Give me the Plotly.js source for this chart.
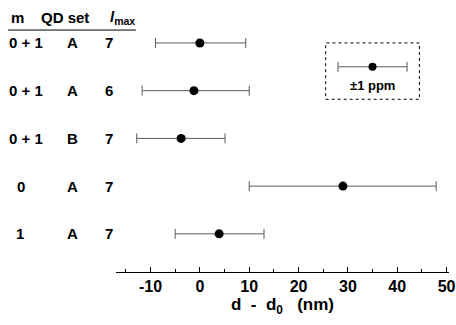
<!DOCTYPE html>
<html><head><meta charset="utf-8">
<script src="https://cdn.plot.ly/plotly-3.0.1.min.js"></script>
<style>body{margin:0;background:#fff}#c{width:456px;height:325px}</style>
</head><body><div id="c"></div>
<script>
// Data
const mLabels = ["0 + 1", "0 + 1", "0 + 1", "0", "1"];
const qdSets = ["A", "A", "B", "A", "A"];
const lmaxVals = ["7", "6", "7", "7", "7"];
const rowPos = [5, 4, 3, 2, 1];
const centers = [0, -1.2, -3.8, 29, 3.9];
const lowErr = [9, 10.5, 9, 19, 8.9];
const highErr = [9.3, 11.2, 8.9, 18.9, 9.1];
const tickVals = [-10, 0, 10, 20, 30, 40, 50];
const tickLabels = ["-10", "0", "10", "20", "30", "40", "50"];
const legendCenter = [35];
const legendRow = [4.5];
const legendErr = [7];

const font = {family: "Liberation Sans, Arial, sans-serif", color: "#000", weight: "bold"};
const traces = [
  {x: centers, y: rowPos, type: "scatter", mode: "markers",
   marker: {color: "#000", size: 9},
   error_x: {type: "data", symmetric: false, array: highErr, arrayminus: lowErr,
             color: "#5a5a5a", thickness: 1, width: 5},
   hoverinfo: "skip", cliponaxis: false},
  {x: legendCenter, y: legendRow, type: "scatter", mode: "markers",
   marker: {color: "#000", size: 8},
   error_x: {type: "data", array: legendErr, color: "#5a5a5a", thickness: 1, width: 5},
   hoverinfo: "skip"}
];

const colX = {m: 17, qd: 65, l: 122};
const rowColX = {m: [26, 26, 26, 21, 20], qd: 72, l: 109};
function px2paper(p){ return (p - 116) / 333; }

const ann = [];
ann.push({text: "m", x: px2paper(colX.m), y: 5.53});
ann.push({text: "QD set", x: px2paper(colX.qd), y: 5.53});
ann.push({text: "<i>l</i><sub>max</sub>", x: px2paper(colX.l), y: 5.53});
for (let i = 0; i < rowPos.length; i++) {
  ann.push({text: mLabels[i], x: px2paper(rowColX.m[i]), y: rowPos[i]});
  ann.push({text: qdSets[i], x: px2paper(rowColX.qd), y: rowPos[i]});
  ann.push({text: lmaxVals[i], x: px2paper(rowColX.l), y: rowPos[i]});
}
ann.forEach(a => { a.xref = "paper"; a.yref = "y"; a.showarrow = false;
  a.xanchor = "center"; a.yanchor = "middle"; a.font = Object.assign({size: 15}, font); });
ann.push({text: "±1 ppm", x: 35, y: 4.1, xref: "x", yref: "y", showarrow: false,
  font: Object.assign({size: 13}, font)});

const layout = {
  width: 456, height: 325,
  margin: {l: 116, r: 7, t: 0, b: 53},
  paper_bgcolor: "#fff", plot_bgcolor: "#fff",
  showlegend: false,
  xaxis: {range: [-17, 50.5], showgrid: false, zeroline: false,
    showline: true, linecolor: "#000", linewidth: 1,
    ticks: "inside", ticklen: 5, tickcolor: "#000",
    tickvals: tickVals, ticktext: tickLabels,
    minor: {dtick: 5, tick0: 0, ticks: "inside", ticklen: 3, tickcolor: "#000"},
    tickfont: Object.assign({size: 16}, font),
    title: {text: "d  -  d<sub>0</sub>   (nm)", font: Object.assign({size: 17}, font), standoff: 3}},
  yaxis: {range: [0.2, 5.9], visible: false},
  annotations: ann,
  shapes: [
    {type: "line", xref: "paper", yref: "y", x0: px2paper(8), x1: px2paper(136), y0: 5.27, y1: 5.27,
     line: {color: "#000", width: 1}},
    {type: "rect", xref: "x", yref: "y", x0: 25.5, x1: 44.5, y0: 3.82, y1: 5.0,
     line: {color: "#000", width: 1, dash: "dot"}}
  ]
};
Plotly.newPlot("c", traces, layout, {staticPlot: true});
</script></body></html>
